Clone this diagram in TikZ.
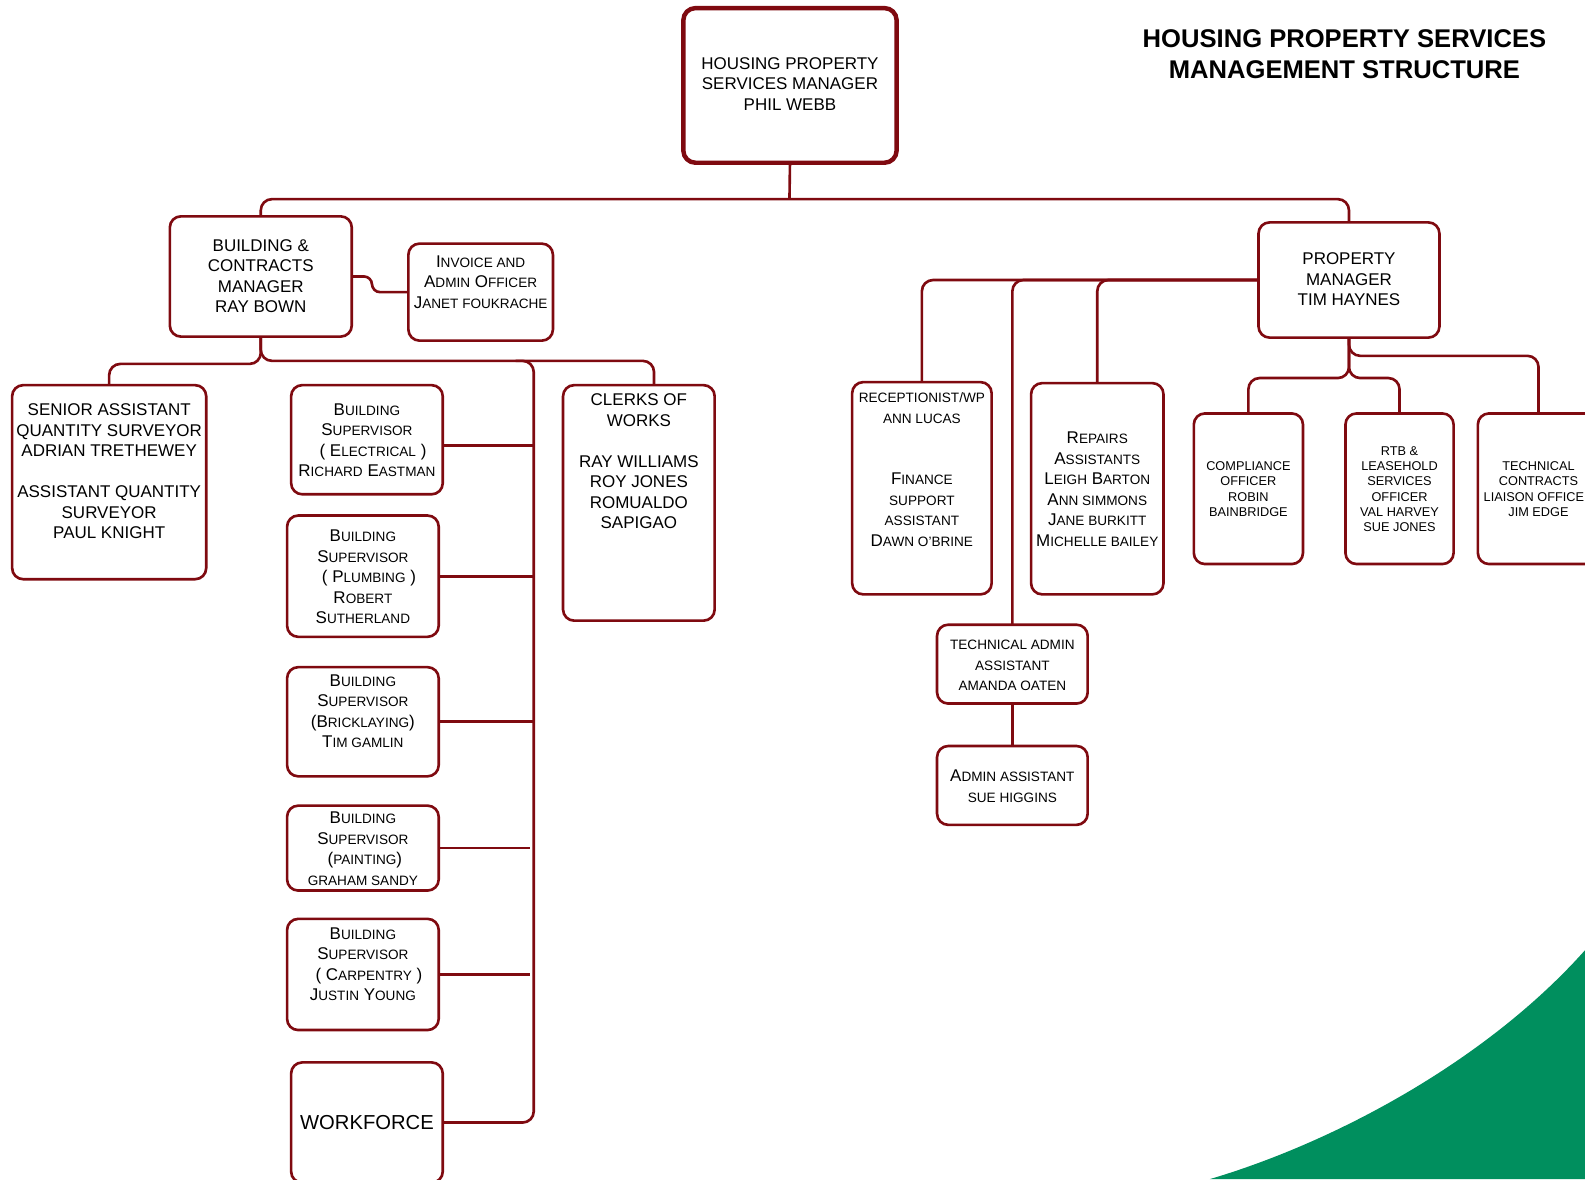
\documentclass[tikz,border=0pt]{standalone}
\usepackage{fontspec}
\setmainfont{Liberation Sans}
\usetikzlibrary{calc}
\definecolor{lineRed}{HTML}{7F0A10}
\definecolor{cornerGreen}{HTML}{008F5E}
\makeatletter
\newcommand\lc[1]{{\fontsize{\the\dimexpr0.8\dimexpr\f@size pt\relax\relax}{\baselineskip}\selectfont #1}}
\makeatother
\newcommand\tb[2]{\raisebox{\dimexpr#1-0.37em\relax}[0pt][0pt]{\begin{tabular}{@{}c@{}}#2\end{tabular}}}
% #1 name, #2 left, #3 top, #4 right, #5 bottom, #6 options, #7 upward text shift, #8 text
\newcommand\orgbox[8]{%
  \pgfmathsetmacro\cxv{(#2+#4)/2}\pgfmathsetmacro\cyv{(#3+#5)/2}%
  \pgfmathsetmacro\wv{(#4-#2)*0.5}\pgfmathsetmacro\hv{(#5-#3)*0.5}%
  \node[orgnode,minimum width=\wv pt,minimum height=\hv pt,#6] (#1) at (\cxv,\cyv) {\tb{\dimexpr#7pt*1/2\relax}{#8}};}
\tikzset{
  orgnode/.style={draw=lineRed,line width=1.3pt,rounded corners=5.5pt,inner sep=0pt,outer sep=0pt,fill=white,text=black,font=\fontsize{8.4}{10.15}\selectfont},
  smalltext/.style={font=\fontsize{6.3}{7.6}\selectfont},
  bigtext/.style={font=\fontsize{10}{12}\selectfont},
  conn/.style={draw=lineRed,line width=1.3pt,rounded corners=5.5pt},
  heading/.style={font=\fontsize{12.66}{15.25}\selectfont\bfseries,align=center,text=black,inner sep=0pt}
}
\begin{document}
\begin{tikzpicture}[x=0.5pt,y=-0.5pt]
\useasboundingbox (0,0) rectangle (1568,1166.4);
\fill[cornerGreen] (1197,1166.4) .. controls (1320,1130) and (1470,1050) .. (1568,940) -- (1568,1166.4) -- cycle;
\node[heading] (title) at (1330,53.5) {HOUSING PROPERTY SERVICES\\MANAGEMENT STRUCTURE};

\orgbox{top}{676}{8}{887}{161}{line width=2.2pt,rounded corners=6pt}{2}{HOUSING PROPERTY\\SERVICES MANAGER\\PHIL WEBB}
\orgbox{bc}{168}{214}{348}{333}{}{1}{BUILDING \&\\CONTRACTS\\MANAGER\\RAY BOWN}
\orgbox{inv}{404}{241}{547}{337}{}{10.5}{I\lc{NVOICE AND}\\A\lc{DMIN} O\lc{FFICER}\\J\lc{ANET FOUKRACHE}}
\orgbox{sen}{12}{381}{204}{573}{}{11}{SENIOR ASSISTANT\\QUANTITY SURVEYOR\\ADRIAN TRETHEWEY\\ \\ASSISTANT QUANTITY\\SURVEYOR\\PAUL KNIGHT}
\orgbox{el}{288}{381}{438}{489}{}{0}{B\lc{UILDING}\\S\lc{UPERVISOR}\\\hspace*{6pt}( E\lc{LECTRICAL} )\\R\lc{ICHARD} E\lc{ASTMAN}}
\orgbox{pl}{284}{510}{434}{630}{}{0}{B\lc{UILDING}\\S\lc{UPERVISOR}\\\hspace*{6pt}( P\lc{LUMBING} )\\R\lc{OBERT}\\S\lc{UTHERLAND}}
\orgbox{br}{284}{660}{434}{768}{}{11}{B\lc{UILDING}\\S\lc{UPERVISOR}\\(B\lc{RICKLAYING})\\T\lc{IM GAMLIN}}
\orgbox{pa}{284}{797}{434}{881}{}{0}{B\lc{UILDING}\\S\lc{UPERVISOR}\\\hspace*{2pt}(\lc{PAINTING})\\\lc{GRAHAM SANDY}}
\orgbox{ca}{284}{909}{434}{1019}{}{10.5}{B\lc{UILDING}\\S\lc{UPERVISOR}\\\hspace*{6pt}( C\lc{ARPENTRY} )\\J\lc{USTIN} Y\lc{OUNG}}
\orgbox{wf}{288}{1051}{438}{1170}{bigtext}{0}{WORKFORCE}
\orgbox{cl}{557}{381}{707}{614}{}{41.5}{CLERKS OF\\WORKS\\ \\RAY WILLIAMS\\ROY JONES\\ROMUALDO\\SAPIGAO}
\orgbox{pm}{1245}{220}{1424}{334}{}{1}{PROPERTY\\MANAGER\\TIM HAYNES}
\orgbox{rc}{843}{378}{981}{588}{}{20}{\lc{RECEPTIONIST/WP}\\\lc{ANN LUCAS}\\ \\ \\F\lc{INANCE}\\\lc{SUPPORT}\\\lc{ASSISTANT}\\D\lc{AWN O'BRINE}}
\orgbox{rp}{1020}{379}{1151}{588}{}{0}{R\lc{EPAIRS}\\A\lc{SSISTANTS}\\L\lc{EIGH} B\lc{ARTON}\\A\lc{NN SIMMONS}\\J\lc{ANE BURKITT}\\M\lc{ICHELLE BAILEY}}
\orgbox{cm}{1181}{409}{1289}{558}{smalltext}{0}{COMPLIANCE\\OFFICER\\ROBIN\\BAINBRIDGE}
\orgbox{rt}{1331}{409}{1438}{558}{smalltext}{0}{RTB \&\\LEASEHOLD\\SERVICES\\OFFICER\\VAL HARVEY\\SUE JONES}
\orgbox{te}{1462}{409}{1582}{558}{smalltext}{0}{TECHNICAL\\CONTRACTS\\LIAISON OFFICE\hphantom{R}\\JIM EDGE}
\orgbox{ta}{927}{618}{1076}{696}{}{0}{\lc{TECHNICAL ADMIN}\\\lc{ASSISTANT}\\\lc{AMANDA OATEN}}
\orgbox{ad}{927}{738}{1076}{816}{}{0}{A\lc{DMIN ASSISTANT}\\\lc{SUE HIGGINS}}

\coordinate (busT) at (781,197);
\coordinate (jL) at (258,360);
\coordinate (jR) at (258,357);
\coordinate (tT) at (528,357);
\coordinate (tB) at (528,1110.5);
\coordinate (tC) at (510,357);
\coordinate (clT) at (647,381);
\coordinate (invM) at (368,273.5);
\coordinate (elOut) at ($(el.east)+(0,6)$);
\coordinate (paEnd) at (524,839);
\coordinate (caEnd) at (524,964);
\coordinate (j3) at (1334.5,374);
\coordinate (j4) at (1334.5,352);

\draw[conn] (top.south) -- (busT);
\draw[conn] (bc.north) |- (busT) -| (pm.north);
\draw[conn,rounded corners=4pt] (bc.east) -- (invM) |- (inv.west);
\draw[conn] (bc.south) -- (jL) -| (sen.north);
\draw[conn] (bc.south) -- (jR) -- (tT) -- (tB) -- (wf.east);
\draw[conn] (tC) -| (clT);
\draw[conn] (elOut) -- (elOut -| tT);
\draw[conn] (pl.east) -- (pl.east -| tT);
\draw[conn] (br.east) -- (br.east -| tT);
\draw[conn] (pa.east) -- (paEnd);
\draw[conn] (ca.east) -- (caEnd);
\draw[conn] (pm.west) -| (rc.north);
\draw[conn] (pm.west) -| (ta.north);
\draw[conn] (pm.west) -| (rp.north);
\draw[conn] (ta.south) -- (ad.north);
\draw[conn] (pm.south) -- (j3) -| (cm.north);
\draw[conn] (pm.south) -- (j3) -| (rt.north);
\draw[conn] (pm.south) -- (j4) -| (te.north);
\end{tikzpicture}
\end{document}
